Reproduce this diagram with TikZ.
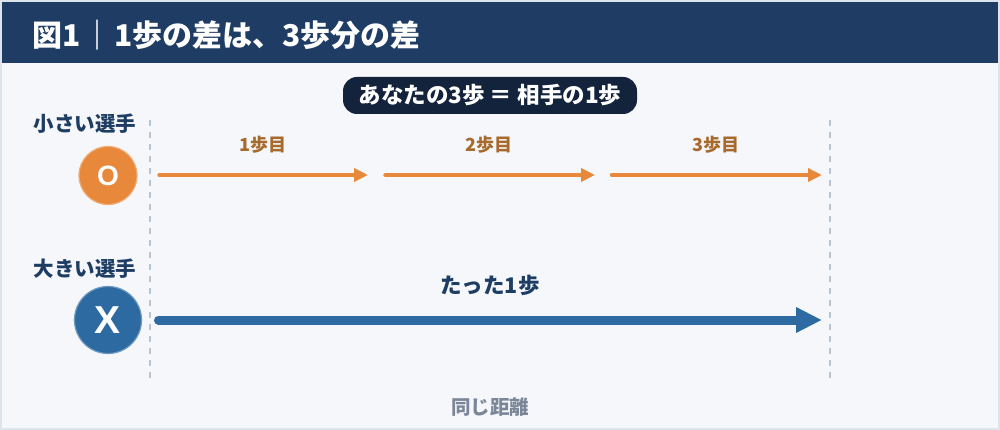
\documentclass[tikz,border=0pt]{standalone}
\usepackage{fontspec}
\setmainfont{Noto Sans CJK JP}
\newfontfamily\latf{Liberation Sans}
\usetikzlibrary{arrows.meta}
\definecolor{framec}{HTML}{DDE4EC}
\definecolor{bgc}{HTML}{F5F7FB}
\definecolor{headc}{HTML}{1F3D64}
\definecolor{pillc}{HTML}{13233B}
\definecolor{orangec}{HTML}{E8883B}
\definecolor{olabc}{HTML}{A86A2C}
\definecolor{bluec}{HTML}{2E6AA2}
\definecolor{navyc}{HTML}{1E3D63}
\definecolor{grayc}{HTML}{7B8698}
\definecolor{dashc}{HTML}{B9C4D2}
\newcommand{\fsz}[1]{\fontsize{#1}{#1}\selectfont}
\begin{document}
\begin{tikzpicture}[x=1pt,y=-1pt,
  every node/.style={inner sep=0pt, outer sep=0pt},
  playerlbl/.style={text=navyc, font=\bfseries\fsz{20.5}},
  steplbl/.style={text=olabc, font=\bfseries\fsz{18}},
  dashline/.style={draw=dashc, line width=2pt, dash pattern=on 6pt off 6pt},
  oarrow/.style={draw=orangec, line width=4.5pt, line cap=round, -{Triangle[length=14pt, width=13pt]}},
  barrow/.style={draw=bluec, line width=9pt, line cap=round, -{Triangle[length=26pt, width=24pt]}},
]
\useasboundingbox (0,0) rectangle (1000,430);
\fill[framec] (0,0) rectangle (1000,430);
\fill[bgc] (2,2) rectangle (998,428);
\fill[headc] (2,2) rectangle (998,63);
\node[anchor=west, text=white, font=\bfseries\fsz{30}] (title) at (32,35) {図1\hspace{2pt}｜\hspace{2pt}1歩の差は、3歩分の差};

\node[fill=pillc, rounded corners=14pt, minimum width=294pt, minimum height=37pt, text=white, font=\bfseries\fsz{22.5}] (pill) at (490,95.5) {あなたの3歩 ＝ 相手の1歩};

% dashed guides
\coordinate (lt) at (150,120); \coordinate (lb) at (150,378);
\coordinate (rt) at (830,120); \coordinate (rb) at (830,378);
\draw[dashline] (lt) -- (lb);
\draw[dashline] (rt) -- (rb);

% small player
\node[playerlbl] (small) at (85,124) {小さい選手};
\node[circle, fill=orangec, draw=orangec!70!white, line width=1.2pt, minimum size=58pt, text=white, font=\latf\bfseries\fsz{28}] (o) at (108,175.5) {O};

\node[steplbl] (s1) at (263,145) {1歩目};
\node[steplbl] (s2) at (489,145) {2歩目};
\node[steplbl] (s3) at (716,145) {3歩目};

\coordinate (a1s) at (159.5,175); \coordinate (a1e) at (368,175);
\coordinate (a2s) at (385.5,175); \coordinate (a2e) at (595,175);
\coordinate (a3s) at (612,175); \coordinate (a3e) at (822,175);
\draw[oarrow] (a1s) -- (a1e);
\draw[oarrow] (a2s) -- (a2e);
\draw[oarrow] (a3s) -- (a3e);

% big player
\node[playerlbl] (big) at (85,269) {大きい選手};
\node[circle, fill=bluec, draw=bluec!70!white, line width=1.2pt, minimum size=67pt, text=white, font=\latf\bfseries\fsz{39}] (x) at (108,320) {X};

\node[text=navyc, font=\bfseries\fsz{21.5}] (one) at (490,285) {たった1歩};
\coordinate (bs) at (158.5,320); \coordinate (be) at (822,320);
\draw[barrow] (bs) -- (be);

\node[text=grayc, font=\bfseries\fsz{19.5}] (same) at (490,407) {同じ距離};
\end{tikzpicture}
\end{document}
